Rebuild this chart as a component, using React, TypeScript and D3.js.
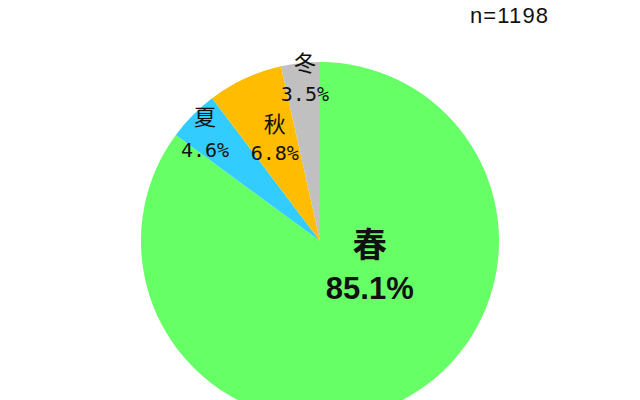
import React from "react";
import * as d3 from "d3";

const categories = ["春", "夏", "秋", "冬"];
const values = [85.1, 4.6, 6.8, 3.5];
const valueLabels = ["85.1%", "4.6%", "6.8%", "3.5%"];
const colors = ["#66FF66", "#33CCFF", "#FFBC00", "#C0C0C0"];
const sampleLabel = "n=1198";

const W = 640;
const H = 400;
const cx = 320;
const cy = 241;
const R = 179;

// label layout: radius fraction and angle tweak (degrees) per slice
const labelLayout = [
  { r: 0.31, da: -37, big: true, gap: 46 },
  { r: 0.885, da: -1.2, big: false, gap: 35 },
  { r: 0.63, da: 1.2, big: false, gap: 31 },
  { r: 0.915, da: 1, big: false, gap: 33 },
];

export default function App() {
  const pie = d3
    .pie<number>()
    .sort(null)
    .startAngle(0)
    .endAngle(2 * Math.PI)
    .value((d) => d);
  const arcs = pie(values);
  const arc = d3.arc<d3.PieArcDatum<number>>().innerRadius(0).outerRadius(R);
  const font = "'Noto Sans CJK JP', 'DejaVu Sans', sans-serif";

  return (
    <svg
      width={W}
      height={H}
      style={{ position: "absolute", left: 0, top: 0, background: "#fff" }}
    >
      <g transform={`translate(${cx},${cy})`}>
        {arcs.map((a, i) => (
          <path key={i} d={arc(a) || ""} fill={colors[i]} />
        ))}
        {arcs.map((a, i) => {
          const L = labelLayout[i];
          const mid = (a.startAngle + a.endAngle) / 2 + (L.da * Math.PI) / 180;
          const rr = L.r * R;
          const x = Math.sin(mid) * rr;
          const y = -Math.cos(mid) * rr;
          return (
            <g key={"l" + i} fontFamily={font} textAnchor="middle" fill="#111">
              <text
                x={x}
                y={y - L.gap / 2}
                dominantBaseline="central"
                fontSize={L.big ? 34 : 22}
                fontWeight={L.big ? 700 : 400}
              >
                {categories[i]}
              </text>
              <text
                x={x}
                y={y + L.gap / 2}
                dominantBaseline="central"
                fontSize={L.big ? 31 : 20}
                fontWeight={L.big ? 700 : 400}
                fontFamily={L.big ? "'Liberation Sans', Arial, sans-serif" : "'DejaVu Sans Mono', monospace"}
              >
                {valueLabels[i]}
              </text>
            </g>
          );
        })}
      </g>
      <text
        x={470}
        y={23}
        fontFamily="'Liberation Sans', Arial, sans-serif"
        fontSize={22}
        textLength={78}
        fill="#111"
      >
        {sampleLabel}
      </text>
    </svg>
  );
}
